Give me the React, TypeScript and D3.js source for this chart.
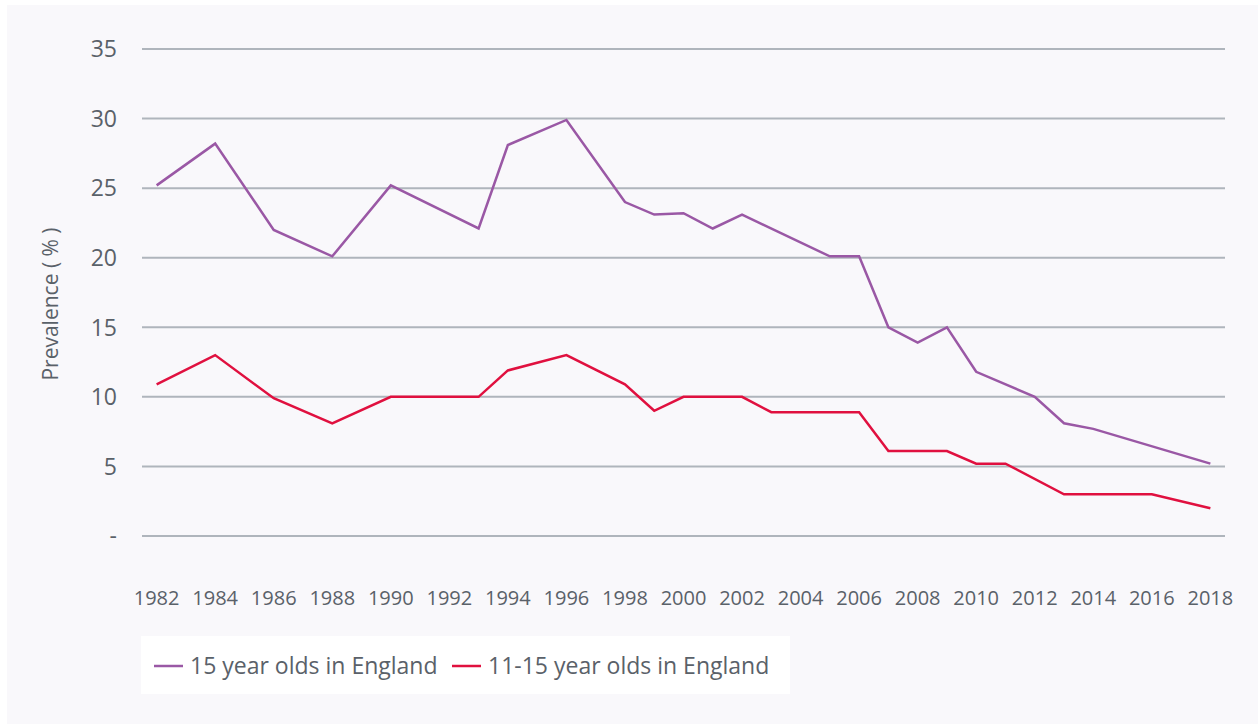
import React from "react";
import * as d3 from "d3";

const years: string[] = [
  "1982","1983","1984","1985","1986","1987","1988","1989","1990","1991",
  "1992","1993","1994","1995","1996","1997","1998","1999","2000","2001",
  "2002","2003","2004","2005","2006","2007","2008","2009","2010","2011",
  "2012","2013","2014","2015","2016","2017","2018",
];

const tickYears: string[] = [
  "1982","1984","1986","1988","1990","1992","1994","1996","1998","2000",
  "2002","2004","2006","2008","2010","2012","2014","2016","2018",
];

// 15 year olds in England (null = no survey point)
const fifteenYearOlds: (number | null)[] = [
  25.2, null, 28.2, null, 22.0, null, 20.1, null, 25.2, null,
  null, 22.1, 28.1, null, 29.9, null, 24.0, 23.1, 23.2, 22.1,
  23.1, null, null, 20.1, 20.1, 15.0, 13.9, 15.0, 11.8, null,
  10.0, 8.1, 7.7, null, null, null, 5.2,
];

// 11-15 year olds in England
const elevenToFifteen: (number | null)[] = [
  10.9, null, 13.0, null, 9.9, null, 8.1, null, 10.0, null,
  10.0, 10.0, 11.9, null, 13.0, null, 10.9, 9.0, 10.0, 10.0,
  10.0, 8.9, 8.9, 8.9, 8.9, 6.1, 6.1, 6.1, 5.2, 5.2,
  null, 3.0, 3.0, null, 3.0, null, 2.0,
];

const yTicks: number[] = [0, 5, 10, 15, 20, 25, 30, 35];
const yTickLabels: string[] = ["-", "5", "10", "15", "20", "25", "30", "35"];

const seriesNames: string[] = ["15 year olds in England", "11-15 year olds in England"];
const seriesColors: string[] = ["#9a58a5", "#e0103f"];

const W = 1258;
const H = 724;
const FONT = "'Open Sans', sans-serif";
const TEXT = "#5a6169";

export default function App() {
  const x = d3.scaleBand<string>().domain(years).range([142, 1225]);
  const cx = (yr: string) => (x(yr) as number) + x.bandwidth() / 2;
  const y = d3.scaleLinear().domain([0, 35]).range([536, 49]);

  const makePath = (vals: (number | null)[]) => {
    const pts = years
      .map((yr, i) => ({ yr, v: vals[i] }))
      .filter((d) => d.v !== null) as { yr: string; v: number }[];
    return d3
      .line<{ yr: string; v: number }>()
      .x((d) => cx(d.yr))
      .y((d) => y(d.v))(pts) as string;
  };

  const series = [fifteenYearOlds, elevenToFifteen];

  const legendX = [154, 452];

  return (
    <svg
      width={W}
      height={H}
      style={{ position: "absolute", left: 0, top: 0, display: "block" }}
      fontFamily={FONT}
    >
      <rect x={0} y={0} width={W} height={H} fill="#ffffff" />
      <rect x={7} y={5} width={W - 7} height={H - 5} fill="#f9f8fb" />

      {yTicks.map((t, i) => (
        <g key={t}>
          <line
            x1={142}
            x2={1225}
            y1={y(t)}
            y2={y(t)}
            stroke="#afb5bc"
            strokeWidth={2}
          />
          <text
            x={117}
            y={y(t)}
            dy="0.36em"
            textAnchor="end"
            fontSize={23}
            fill={TEXT}
          >
            {yTickLabels[i]}
          </text>
        </g>
      ))}

      {tickYears.map((yr) => (
        <text
          key={yr}
          x={cx(yr)}
          y={605}
          textAnchor="middle"
          fontSize={20}
          fill={TEXT}
        >
          {yr}
        </text>
      ))}

      <text
        transform="translate(58,304) rotate(-90)"
        textAnchor="middle"
        fontSize={21}
        fill={TEXT}
      >
        Prevalence ( % )
      </text>

      {series.map((vals, i) => (
        <path
          key={i}
          d={makePath(vals)}
          fill="none"
          stroke={seriesColors[i]}
          strokeWidth={2.5}
          strokeLinejoin="miter"
        />
      ))}

      <rect x={141} y={636} width={649} height={58} fill="#ffffff" />
      {seriesNames.map((name, i) => (
        <g key={name}>
          <line
            x1={legendX[i]}
            x2={legendX[i] + 29}
            y1={666}
            y2={666}
            stroke={seriesColors[i]}
            strokeWidth={2.5}
          />
          <text
            x={legendX[i] + 36}
            y={666}
            dy="0.36em"
            fontSize={23}
            fill={TEXT}
          >
            {name}
          </text>
        </g>
      ))}
    </svg>
  );
}
